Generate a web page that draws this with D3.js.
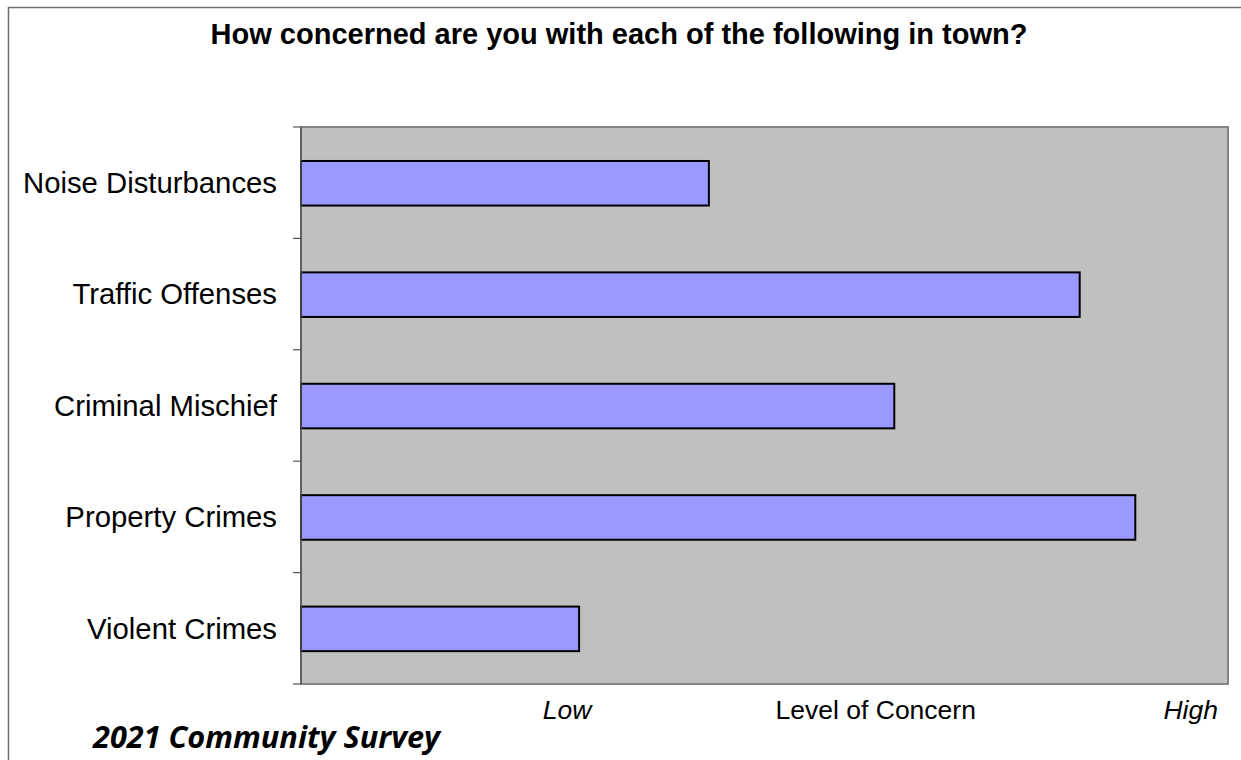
<!DOCTYPE html>
<html>
<head>
<meta charset="utf-8">
<script src="https://cdn.jsdelivr.net/npm/d3@7"></script>
<style>
  body { margin: 0; background: #fff; overflow: hidden; }
  svg { display: block; font-family: Arial, "Liberation Sans", sans-serif; }
</style>
</head>
<body>
<svg id="chart" width="1241" height="760"></svg>
<script>
var width = 1241;
var height = 760;

// survey categories, top to bottom
var categories = ['Noise Disturbances', 'Traffic Offenses', 'Criminal Mischief', 'Property Crimes', 'Violent Crimes'];
// level of concern, 0 (none) .. 10 (high)
var concern = [4.4, 8.4, 6.4, 9.0, 3.0];
var scaleLabels = ['Low', 'Level of Concern', 'High'];

var margin = {top: 127, right: 13, bottom: 76, left: 301};

var svg = d3.select('#chart');

// outer frame, only top and left edges fall inside the picture
svg.append('path')
    .attr('d', 'M8.5,' + height + 'V7.5H' + width)
    .attr('fill', 'none')
    .attr('stroke', '#6e6e6e')
    .attr('stroke-width', 1.5);

var x = d3.scaleLinear()
    .domain([0, 10])
    .range([margin.left, width - margin.right]);

var y = d3.scaleBand()
    .domain(categories)
    .range([margin.top, height - margin.bottom])
    .padding(0);

// plot area
svg.append('rect')
    .attr('x', x(0)).attr('y', y.range()[0])
    .attr('width', x(10) - x(0))
    .attr('height', y.range()[1] - y.range()[0])
    .attr('fill', '#c0c0c0')
    .attr('stroke', '#858585')
    .attr('stroke-width', 2);

// bars
svg.append('g').selectAll('rect')
    .data(categories)
    .join('rect')
    .attr('x', x(0))
    .attr('y', function(d) { return y(d) + y.bandwidth() * 0.305; })
    .attr('width', function(d, i) { return x(concern[i]) - x(0); })
    .attr('height', y.bandwidth() * 0.4)
    .attr('fill', '#9999ff')
    .attr('stroke', '#000')
    .attr('stroke-width', 2);

// category axis: ticks sit on the band edges
var edges = categories.map(function(d) { return y(d); }).concat([y.range()[1]]);
var yAxis = svg.append('g')
    .attr('transform', 'translate(' + x(0) + ',0)');
yAxis.append('line')
    .attr('y1', y.range()[0]).attr('y2', y.range()[1])
    .attr('stroke', '#555').attr('stroke-width', 1.5);
yAxis.selectAll('line.tick')
    .data(edges)
    .join('line')
    .attr('class', 'tick')
    .attr('x1', -8).attr('x2', 0)
    .attr('y1', function(d) { return d; })
    .attr('y2', function(d) { return d; })
    .attr('stroke', '#555').attr('stroke-width', 1.2);
yAxis.selectAll('text')
    .data(categories)
    .join('text')
    .attr('x', -24)
    .attr('y', function(d) { return y(d) + y.bandwidth() / 2; })
    .attr('dy', '0.35em')
    .attr('text-anchor', 'end')
    .attr('font-size', 29.3)
    .attr('fill', '#000')
    .text(function(d) { return d; });

// value axis captions (no ticks in the original)
var captionY = 719;
svg.append('text')
    .attr('x', x(2.87)).attr('y', captionY)
    .attr('text-anchor', 'middle')
    .attr('font-size', 26.5).attr('font-style', 'italic')
    .text(scaleLabels[0]);
svg.append('text')
    .attr('x', x(6.2)).attr('y', captionY)
    .attr('text-anchor', 'middle')
    .attr('font-size', 26.5)
    .text(scaleLabels[1]);
svg.append('text')
    .attr('x', x(10) - 10).attr('y', captionY)
    .attr('text-anchor', 'end')
    .attr('font-size', 26.5).attr('font-style', 'italic')
    .text(scaleLabels[2]);

// title
svg.append('text')
    .attr('x', 619).attr('y', 44)
    .attr('text-anchor', 'middle')
    .attr('font-size', 29).attr('font-weight', 'bold')
    .text('How concerned are you with each of the following in town?');

// footer note
var note = svg.append('text')
    .attr('x', 93).attr('y', 748)
    .attr('font-family', '"Open Sans", sans-serif')
    .attr('font-size', 32).attr('font-weight', 'bold').attr('font-style', 'italic')
    .text('2021 Community Survey');
var w = note.node().getComputedTextLength();
note.attr('font-size', 32 * 347 / w);
</script>
</body>
</html>
